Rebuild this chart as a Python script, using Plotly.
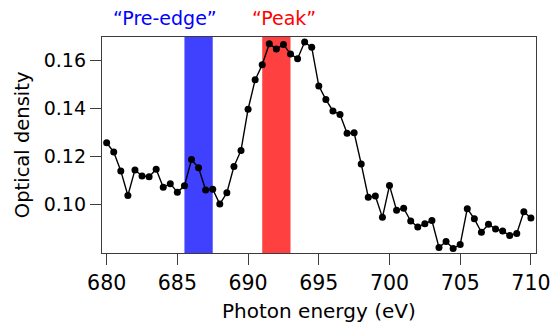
import plotly.graph_objects as go

energy_start = 680.0
energy_step = 0.5
optical_density = [
    0.1258, 0.1219, 0.1141, 0.1039, 0.1145, 0.1120, 0.1117, 0.1148, 0.1073, 0.1088,
    0.1052, 0.1079, 0.1188, 0.1154, 0.1062, 0.1065, 0.1003, 0.1050, 0.1159, 0.1226,
    0.1397, 0.1519, 0.1582, 0.1669, 0.1647, 0.1666, 0.1626, 0.1607, 0.1676, 0.1654,
    0.1494, 0.1437, 0.1390, 0.1375, 0.1297, 0.1299, 0.1170, 0.1032, 0.1037, 0.0948,
    0.1080, 0.0978, 0.0986, 0.0933, 0.0908, 0.0921, 0.0935, 0.0823, 0.0848, 0.0819,
    0.0835, 0.0984, 0.0942, 0.0886, 0.0919, 0.0900, 0.0891, 0.0873, 0.0881, 0.0971,
    0.0945,
]
photon_energy = [energy_start + i * energy_step for i in range(len(optical_density))]

bands = [
    {"label": "\u201cPre-edge\u201d", "x0": 685.5, "x1": 687.5, "fill": "rgb(64,64,255)", "text": "rgb(0,0,255)", "label_x": 684.1},
    {"label": "\u201cPeak\u201d", "x0": 691.0, "x1": 693.0, "fill": "rgb(255,64,64)", "text": "rgb(255,0,0)", "label_x": 692.55},
]

x_ticks = [680, 685, 690, 695, 700, 705, 710]
y_ticks = [0.10, 0.12, 0.14, 0.16]
y_tick_text = ["0.10", "0.12", "0.14", "0.16"]
x_title = "Photon energy (eV)"
y_title = "Optical density"

FONT = "DejaVu Sans"

fig = go.Figure()

for b in bands:
    fig.add_shape(type="rect", xref="x", yref="paper", x0=b["x0"], x1=b["x1"], y0=0, y1=1,
                  fillcolor=b["fill"], line_width=0, layer="below")
    fig.add_annotation(x=b["label_x"], xref="x", y=1.09, yref="paper", yanchor="middle",
                       text=b["label"], showarrow=False,
                       font=dict(family=FONT, size=19, color=b["text"]))

fig.add_trace(go.Scatter(
    x=photon_energy, y=optical_density, mode="lines+markers",
    line=dict(color="black", width=1.4),
    marker=dict(color="black", size=7),
    showlegend=False,
))

axis_common = dict(
    showline=True, linecolor="#3c3c3c", linewidth=1.3, mirror=True,
    showgrid=False, zeroline=False, ticks="outside", ticklen=11,
    tickcolor="#3c3c3c", tickwidth=1.3, automargin=False,
)

fig.update_xaxes(
    range=[679.67, 710.36], tickvals=x_ticks,
    tickfont=dict(family=FONT, size=20.5, color="black"),
    **axis_common,
)
fig.update_yaxes(
    range=[0.080, 0.1697], tickvals=y_ticks, ticktext=y_tick_text,
    tickfont=dict(family=FONT, size=19, color="black"),
    **axis_common,
)

fig.add_annotation(x=0.5, xref="paper", y=-0.268, yref="paper", yanchor="middle",
                   text=x_title, showarrow=False,
                   font=dict(family=FONT, size=20, color="black"))
fig.add_annotation(x=-0.184, xref="paper", y=0.5, yref="paper", xanchor="center", yanchor="middle",
                   text=y_title, textangle=-90, showarrow=False,
                   font=dict(family=FONT, size=19.5, color="black"))

fig.update_layout(
    width=558, height=322,
    margin=dict(l=102, r=22, t=37, b=69),
    paper_bgcolor="white", plot_bgcolor="white",
)

fig.write_html("out.html", config={"displayModeBar": False},
               post_script="document.body.style.margin='0px';")
